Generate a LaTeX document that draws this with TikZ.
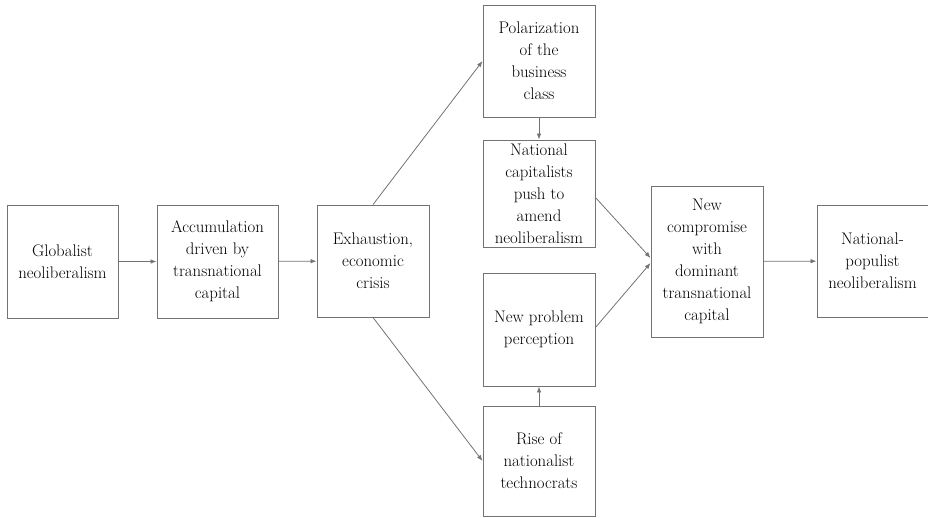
\documentclass[tikz,border=0pt]{standalone}
\usetikzlibrary{arrows.meta}
\begin{document}
\begin{tikzpicture}[x=1pt,y=-1pt,
  box/.style={draw=black!55,line width=0.9pt,rectangle,align=center,inner sep=0pt,
    font=\rmfamily\fontsize{16.8}{22}\selectfont,text=black},
  conn/.style={draw=black!55,line width=0.8pt,-{Latex[length=6pt,width=4.5pt]}}]
\useasboundingbox (0,0) rectangle (928,517);
\node[box,minimum width=111pt,minimum height=113pt] (n1) at (62.5,261.5) {Globalist\\neoliberalism};
\node[box,minimum width=121pt,minimum height=113pt] (n2) at (217.5,261.5) {Accumulation\\driven by\\transnational\\capital};
\node[box,minimum width=112pt,minimum height=112pt] (n3) at (373,261) {Exhaustion,\\economic\\crisis};
\node[box,minimum width=112pt,minimum height=112pt] (n4) at (539,61) {Polarization\\of the\\business\\class};
\node[box,minimum width=112pt,minimum height=107pt] (n5) at (539,193.5) {National\\capitalists\\push to\\amend\\neoliberalism};
\node[box,minimum width=112pt,minimum height=113pt] (n6) at (539,329.5) {New problem\\perception};
\node[box,minimum width=112pt,minimum height=110pt] (n7) at (539,461) {Rise of\\nationalist\\technocrats};
\node[box,minimum width=112pt,minimum height=151pt] (n8) at (707,261.5) {New\\compromise\\with\\dominant\\transnational\\capital};
\node[box,minimum width=111pt,minimum height=112pt] (n9) at (872.5,261) {National-\\populist\\neoliberalism};
\draw[conn] (n1) -- (n2);
\draw[conn] (n2) -- (n3);
\draw[conn] (n3.north) -- (n4.west);
\draw[conn] (n3.south) -- (n7.west);
\draw[conn] (n4) -- (n5);
\draw[conn] (n7) -- (n6);
\draw[conn] ([yshift=-4pt]n5.east) -- ([yshift=3.5pt]n8.west);
\draw[conn] ([yshift=2pt]n6.east) -- ([yshift=-1.5pt]n8.west);
\draw[conn] (n8) -- (n9);
\end{tikzpicture}
\end{document}
